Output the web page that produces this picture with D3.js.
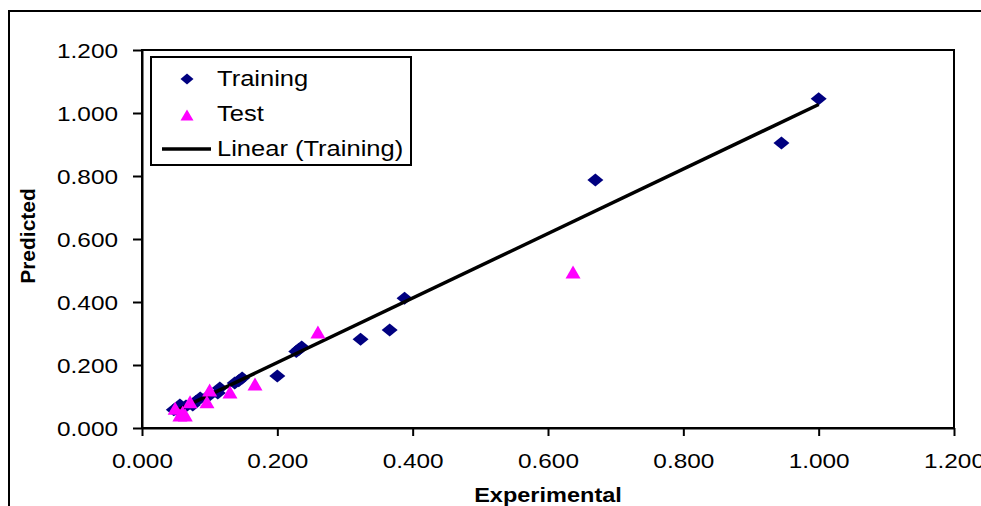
<!DOCTYPE html>
<html>
<head>
<meta charset="utf-8">
<script src="https://cdn.jsdelivr.net/npm/d3@7"></script>
<style>
  body { margin: 0; background: #fff; }
  text { font-family: "Liberation Sans", Arial, sans-serif; fill: #000; }
</style>
</head>
<body>
<div id="chart-area"></div>
<script>
// Data
var trainX = [1.000, 0.945, 0.670, 0.388, 0.366, 0.323, 0.236, 0.228, 0.232, 0.200,
              0.148, 0.143, 0.137, 0.115, 0.112, 0.100, 0.086, 0.080, 0.075, 0.065,
              0.056, 0.052, 0.060, 0.047];
var trainY = [1.045, 0.905, 0.787, 0.412, 0.311, 0.282, 0.257, 0.243, 0.250, 0.165,
              0.159, 0.150, 0.143, 0.127, 0.111, 0.105, 0.095, 0.085, 0.073, 0.070,
              0.073, 0.057, 0.062, 0.058];

var testX = [0.637, 0.260, 0.167, 0.130, 0.100, 0.096, 0.071, 0.049, 0.056, 0.064, 0.060];
var testY = [0.495, 0.305, 0.140, 0.114, 0.121, 0.083, 0.083, 0.063, 0.041, 0.041, 0.050];

// Linear (Training) trend line: slope, intercept
var trendCoef = [1.024, 0.003];

var tickVals = [0, 0.2, 0.4, 0.6, 0.8, 1.0, 1.2];
var legendLabels = ["Training", "Test", "Linear (Training)"];

var W = 981, H = 506;
var stretch = 1.16; // the picture's text is a bit wider than it is tall

var x = d3.scaleLinear().domain([0, 1.2]).range([142, 954]);
var y = d3.scaleLinear().domain([0, 1.2]).range([428, 50]);

var svg = d3.select("#chart-area")
  .append("svg")
  .attr("width", W)
  .attr("height", H);

// Outer chart border
svg.append("rect")
  .attr("x", 9).attr("y", 11)
  .attr("width", 1100).attr("height", 600)
  .attr("fill", "#fff")
  .attr("stroke", "#000")
  .attr("stroke-width", 2);

// Plot area border
svg.append("rect")
  .attr("x", x(0)).attr("y", y(1.2))
  .attr("width", x(1.2) - x(0))
  .attr("height", y(0) - y(1.2))
  .attr("fill", "#fff")
  .attr("stroke", "#000")
  .attr("stroke-width", 2);

function fmt(d) { return d3.format(".3f")(d); }

// Axes
var xAxis = svg.append("g")
  .attr("transform", "translate(0," + y(0) + ")")
  .call(d3.axisBottom(x).tickValues(tickVals).tickFormat(fmt).tickSize(8).tickSizeOuter(0));

var yAxis = svg.append("g")
  .attr("transform", "translate(" + x(0) + ",0)")
  .call(d3.axisLeft(y).tickValues(tickVals).tickFormat(fmt).tickSize(9).tickSizeOuter(0));

[xAxis, yAxis].forEach(function(a) {
  a.select(".domain").attr("stroke", "#000").attr("stroke-width", 2);
  a.selectAll(".tick line").attr("stroke", "#000").attr("stroke-width", 2);
  a.selectAll(".tick text")
    .attr("font-family", "Liberation Sans, Arial, sans-serif")
    .attr("font-size", "21px")
    .attr("fill", "#000");
});

xAxis.selectAll(".tick text")
  .attr("y", 40).attr("dy", 0)
  .attr("transform", "scale(" + stretch + ",1)");

yAxis.selectAll(".tick text")
  .attr("x", -24 / stretch).attr("dy", "0.35em")
  .attr("transform", "scale(" + stretch + ",1)");

// Axis titles
svg.append("g")
  .attr("transform", "translate(548,502) scale(1.12,1)")
  .append("text")
  .attr("text-anchor", "middle")
  .attr("font-size", "21px")
  .attr("font-weight", "bold")
  .text("Experimental");

svg.append("text")
  .attr("transform", "translate(35,236) rotate(-90)")
  .attr("text-anchor", "middle")
  .attr("font-size", "21px")
  .attr("font-weight", "bold")
  .text("Predicted");

// Marker shapes
function diamond(w, h) {
  return "M0," + (-h / 2) + "L" + (w / 2) + ",0L0," + (h / 2) + "L" + (-w / 2) + ",0Z";
}
function triangle(w, h) {
  return "M0," + (-h / 2) + "L" + (w / 2) + "," + (h / 2) + "L" + (-w / 2) + "," + (h / 2) + "Z";
}

var trainData = trainX.map(function(d, i) { return { x: d, y: trainY[i] }; });
var testData = testX.map(function(d, i) { return { x: d, y: testY[i] }; });

// Training points
svg.append("g").selectAll("path")
  .data(trainData)
  .enter()
  .append("path")
  .attr("d", diamond(16, 13))
  .attr("transform", function(d) { return "translate(" + x(d.x) + "," + y(d.y) + ")"; })
  .attr("fill", "#000080");

// Trend line over the training range
var ext = d3.extent(trainX);
svg.append("line")
  .attr("x1", x(ext[0])).attr("y1", y(trendCoef[0] * ext[0] + trendCoef[1]))
  .attr("x2", x(ext[1])).attr("y2", y(trendCoef[0] * ext[1] + trendCoef[1]))
  .attr("stroke", "#000")
  .attr("stroke-width", 3.5);

// Test points
svg.append("g").selectAll("path")
  .data(testData)
  .enter()
  .append("path")
  .attr("d", triangle(15, 13))
  .attr("transform", function(d) { return "translate(" + x(d.x) + "," + y(d.y) + ")"; })
  .attr("fill", "#ff00ff");

// Legend
var legend = svg.append("g").attr("transform", "translate(151,57)");

legend.append("rect")
  .attr("width", 260).attr("height", 108)
  .attr("fill", "#fff")
  .attr("stroke", "#000")
  .attr("stroke-width", 2);

legend.append("path")
  .attr("d", diamond(13, 11))
  .attr("transform", "translate(36,22)")
  .attr("fill", "#000080");

legend.append("path")
  .attr("d", triangle(13, 11))
  .attr("transform", "translate(36,58)")
  .attr("fill", "#ff00ff");

legend.append("line")
  .attr("x1", 11).attr("x2", 60)
  .attr("y1", 92).attr("y2", 92)
  .attr("stroke", "#000")
  .attr("stroke-width", 3.5);

legend.selectAll(".legend-label")
  .data(legendLabels)
  .enter()
  .append("g")
  .attr("class", "legend-label")
  .attr("transform", function(d, i) {
    return "translate(66," + (29 + i * 35) + ") scale(" + stretch + ",1)";
  })
  .append("text")
  .attr("font-size", "22px")
  .text(function(d) { return d; });
</script>
</body>
</html>
